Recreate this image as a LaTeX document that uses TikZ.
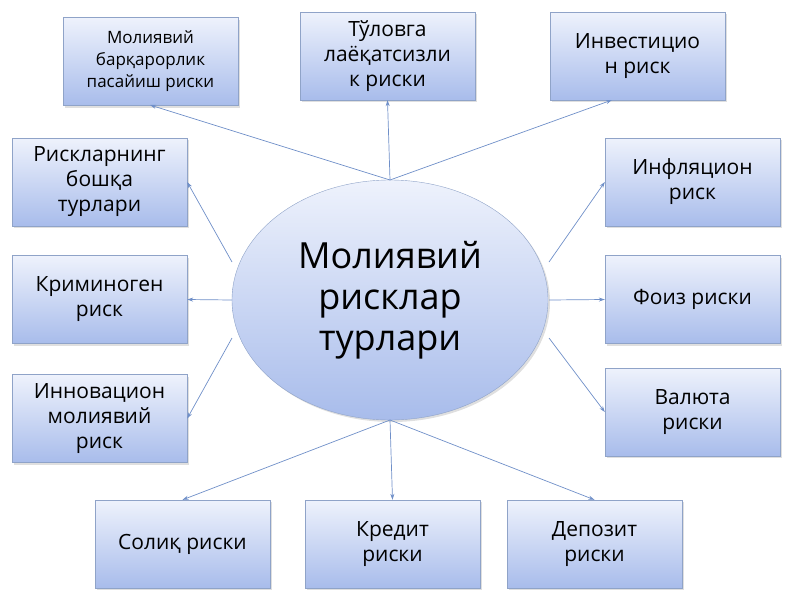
\documentclass[tikz,border=0pt]{standalone}
\usepackage{fontspec}
\setmainfont{Open Sans}
\usetikzlibrary{shapes.geometric,arrows.meta,shadows}
\definecolor{topc}{HTML}{EEF2FC}
\definecolor{botc}{HTML}{A8BCEB}
\definecolor{edgec}{HTML}{8FA3C8}
\definecolor{linec}{HTML}{6F8FC8}
\begin{document}
\begin{tikzpicture}[x=1pt,y=-1pt,
 box/.style={draw=edgec,top color=topc,bottom color=botc,minimum width=175pt,minimum height=88pt,align=center,font=\fontsize{21}{25}\selectfont,inner sep=2pt,drop shadow={opacity=0.25,shadow xshift=2pt,shadow yshift=-2pt}},
 arr/.style={draw=linec,line width=0.7pt,-{Stealth[length=6pt,width=4pt]}}]
\useasboundingbox (0,0) rectangle (800,600);
\node[ellipse,draw=edgec,top color=topc,bottom color=botc,minimum width=316pt,minimum height=240pt,align=center,font=\fontsize{36}{41}\selectfont,inner sep=0pt,drop shadow={opacity=0.25,shadow xshift=2pt,shadow yshift=-2pt}] (c) at (390,300) {Молиявий\\рисклар\\турлари};
\node[box,font=\fontsize{17}{22}\selectfont] (b1) at (150.5,61.5) {Молиявий\\барқарорлик\\пасайиш риски};
\node[box] (b2) at (387.5,56) {Тўловга\\лаёқатсизли\\к риски};
\node[box] (b3) at (637.5,56) {Инвестицио\\н риск};
\node[box] (b4) at (99.5,182) {Рискларнинг\\бошқа\\турлари};
\node[box] (b5) at (99.5,299.5) {Криминоген\\риск};
\node[box] (b6) at (99.5,418.5) {Инновацион\\молиявий\\риск};
\node[box] (b7) at (692.5,182) {Инфляцион\\риск};
\node[box] (b8) at (692.5,299.5) {Фоиз риски};
\node[box] (b9) at (692.5,412) {Валюта\\риски};
\node[box] (b10) at (182.5,544) {Солиқ риски};
\node[box] (b11) at (392.5,544) {Кредит\\риски};
\node[box] (b12) at (594.5,544) {Депозит\\риски};
\coordinate (ct) at (390,180);
\coordinate (cb) at (390,420);
\draw[arr] (ct) -- (150,105);
\draw[arr] (ct) -- (b2.south);
\draw[arr] (ct) -- (612,100);
\draw[arr] (232,262) -- (b4.east);
\draw[arr] (232,300) -- (b5.east);
\draw[arr] (232,338) -- (b6.east);
\draw[arr] (549,262) -- (b7.west);
\draw[arr] (549,300) -- (b8.west);
\draw[arr] (549,338) -- (b9.west);
\draw[arr] (cb) -- (b10.north);
\draw[arr] (cb) -- (b11.north);
\draw[arr] (cb) -- (b12.north);
\end{tikzpicture}
\end{document}
